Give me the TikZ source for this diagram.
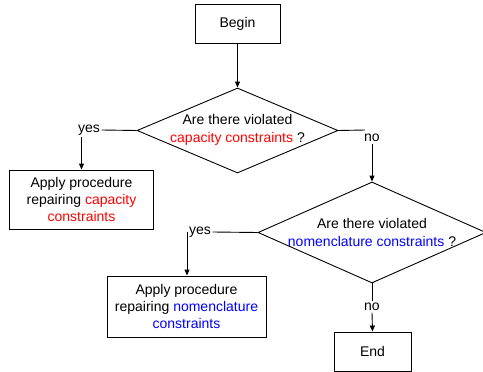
\documentclass[tikz,border=0pt]{standalone}
\usepackage{fontspec}
\setmainfont{Liberation Sans}
\usetikzlibrary{shapes.geometric,arrows.meta}
\begin{document}
\begin{tikzpicture}[x=1pt,y=-1pt,
  every node/.style={font=\fontsize{14}{17.3}\selectfont},
  box/.style={draw,line width=0.9pt,inner sep=0pt,align=center},
  dia/.style={draw,diamond,line width=0.9pt,inner sep=0pt},
  lbl/.style={inner sep=1.5pt},
  ln/.style={line width=0.9pt},
  arr/.style={line width=0.9pt,-{Triangle[length=6pt,width=5pt]}}]
\useasboundingbox (0,0) rectangle (483,372);
\node[box,minimum width=85pt,minimum height=39pt] (begin) at (237.5,23.5) {Begin};
\node[dia,minimum width=201pt,minimum height=85pt] (d1) at (237.5,130.5) {};
\node[align=center,inner sep=0pt] (t1) at (237.5,130) {Are there violated\\\textcolor{red}{capacity constraints} ?};
\node[box,minimum width=143.5pt,minimum height=59pt] (a1) at (81.5,199.5) {Apply procedure\\repairing \textcolor{red}{capacity}\\\textcolor{red}{constraints}};
\node[dia,minimum width=228pt,minimum height=101pt] (d2) at (372,232.5) {};
\node[align=center,inner sep=0pt] (t2) at (372,232.5) {Are there violated\\\textcolor{blue}{nomenclature constraints} ?};
\node[box,minimum width=159pt,minimum height=61pt] (a2) at (186.5,306.5) {Apply procedure\\repairing \textcolor{blue}{nomenclature}\\\textcolor{blue}{constraints}};
\node[box,minimum width=77pt,minimum height=39pt] (end) at (372.5,351.5) {End};
\node[lbl] (yes1) at (89,130) {yes};
\node[lbl] (no1) at (372,138) {no};
\node[lbl] (yes2) at (200,232) {yes};
\node[lbl] (no2) at (372,307) {no};
\coordinate (c1) at (365,130);
\coordinate (c2) at (187,232);
\draw[arr] (begin.south) -- (d1.north);
\draw[ln] (d1.west) -- (yes1.east);
\draw[arr] (yes1.south -| a1.north) -- (a1.north);
\draw[ln] (d1.east) -- (c1);
\draw[arr] (no1.south) -- (d2.north);
\draw[ln] (d2.west) -- (yes2.east);
\draw[arr] (c2) -- (c2 |- a2.north);
\draw[ln] (d2.south) -- (no2.north);
\draw[arr] (no2.south) -- (end.north);
\end{tikzpicture}
\end{document}
